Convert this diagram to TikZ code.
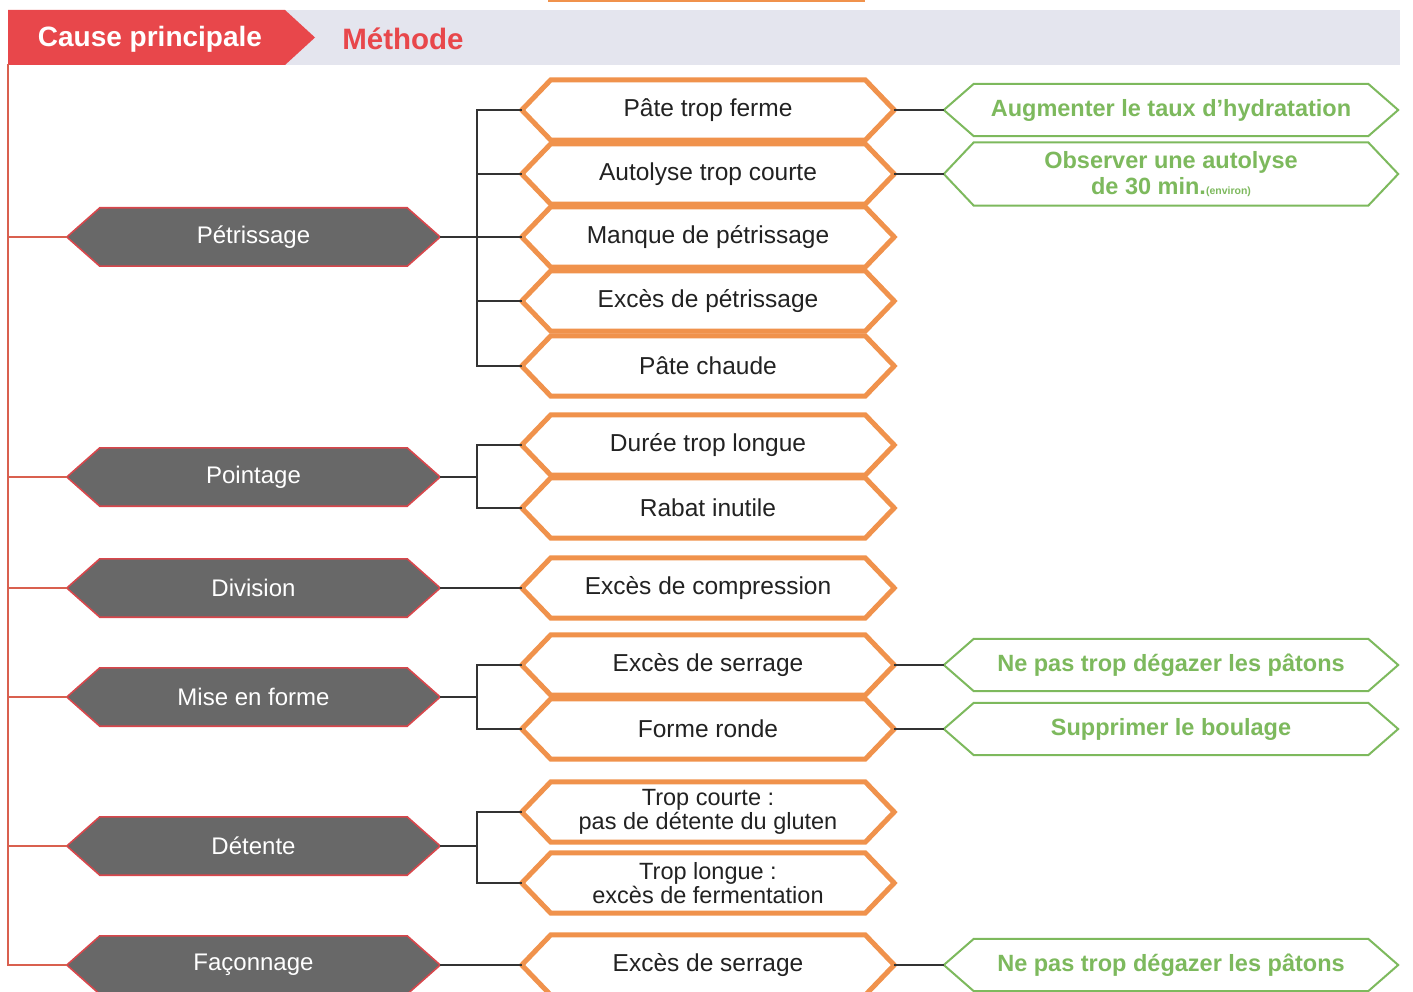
\documentclass[tikz,border=0pt]{standalone}
\usepackage{fontspec}
\setmainfont{Liberation Sans}
\usetikzlibrary{calc,backgrounds}
\definecolor{hdred}{HTML}{E8474B}
\definecolor{hdgrey}{HTML}{E4E5EE}
\definecolor{linered}{HTML}{D9604F}
\definecolor{causegrey}{HTML}{686868}
\definecolor{causeborder}{HTML}{D8474C}
\definecolor{orng}{HTML}{F0924C}
\definecolor{grn}{HTML}{7DB95D}
\definecolor{txtdark}{HTML}{222222}
\definecolor{conn}{HTML}{333333}
\begin{document}
\begin{tikzpicture}[x=1pt,y=-1pt,
  cause/.style={minimum width=373pt, minimum height=58pt, inner sep=0pt, text=white, font=\fontsize{24}{26}\selectfont},
  prob/.style={minimum width=372pt, minimum height=60pt, inner sep=0pt, text=txtdark, font=\fontsize{24.5}{24}\selectfont, align=center},
  prob2/.style={prob, font=\fontsize{23.5}{24}\selectfont},
  fix/.style={minimum width=454pt, minimum height=52pt, inner sep=0pt, text=grn, font=\bfseries\fontsize{23.5}{26}\selectfont, align=center},
  link/.style={draw=conn, line width=1.8pt},
  redlink/.style={draw=linered, line width=2pt},
  hdtext/.style={font=\bfseries\fontsize{28}{30}\selectfont, inner sep=0pt},
  ]
\useasboundingbox (0,0) rectangle (1413,992);
\clip (0,0) rectangle (1413,992);
% fragment of a shape above
\draw[orng, line width=3pt] (548,0.5) -- (865,0.5);
% header
\fill[hdgrey] (285,10) rectangle (1400,65);
\fill[hdred] (8,10) -- (285,10) -- (315,37.5) -- (285,65) -- (8,65) -- cycle;
\node[hdtext, text=white] (hcause) at (150,39) {Cause principale};
\node[hdtext, text=hdred, font=\bfseries\fontsize{29.5}{30}\selectfont] (hmeth) at (403,39) {Méthode};
% causes
\node[cause] (petr) at (253.5,237) {Pétrissage};
\node[cause] (poin) at (253.5,477) {Pointage};
\node[cause] (divi) at (253.5,588) {Division};
\node[cause] (mise) at (253.5,697) {Mise en forme};
\node[cause] (dete) at (253.5,846) {Détente};
\node[cause] (faco) at (253.5,965) {Façonnage};
% problems
\node[prob] (p1) at (708,110) {Pâte trop ferme};
\node[prob] (p2) at (708,174) {Autolyse trop courte};
\node[prob] (p3) at (708,237) {Manque de pétrissage};
\node[prob] (p4) at (708,301) {Excès de pétrissage};
\node[prob] (p5) at (708,366) {Pâte chaude};
\node[prob] (p6) at (708,445) {Durée trop longue};
\node[prob] (p7) at (708,508) {Rabat inutile};
\node[prob] (p8) at (708,588) {Excès de compression};
\node[prob] (p9) at (708,665) {Excès de serrage};
\node[prob] (p10) at (708,729) {Forme ronde};
\node[prob2] (p11) at (708,812) {Trop courte :\\pas de détente du gluten};
\node[prob2] (p12) at (708,883) {Trop longue :\\excès de fermentation};
\node[prob] (p13) at (708,965) {Excès de serrage};
% fixes
\node[fix] (f1) at (1171,110) {Augmenter le taux d'hydratation};
\node[fix, minimum height=63pt] (f2) at (1171,174) {Observer une autolyse\\de 30 min.{\fontsize{10.5}{12}\selectfont (environ)}};
\node[fix] (f3) at (1171,665) {Ne pas trop dégazer les pâtons};
\node[fix] (f4) at (1171,729) {Supprimer le boulage};
\node[fix] (f5) at (1171,965) {Ne pas trop dégazer les pâtons};
% hexagon outlines
\begin{scope}[on background layer]
\foreach \n in {petr,poin,divi,mise,dete,faco}
  \draw[fill=causegrey, draw=causeborder, line width=1.6pt, line join=miter]
    (\n.west) -- ($(\n.north west)+(33,0)$) -- ($(\n.north east)+(-33,0)$) -- (\n.east)
    -- ($(\n.south east)+(-33,0)$) -- ($(\n.south west)+(33,0)$) -- cycle;
\foreach \n in {p1,p2,p3,p4,p5,p6,p7,p8,p9,p10,p11,p12,p13}
  \draw[fill=white, draw=orng, line width=5pt, line join=miter]
    (\n.west) -- ($(\n.north west)+(29,0)$) -- ($(\n.north east)+(-29,0)$) -- (\n.east)
    -- ($(\n.south east)+(-29,0)$) -- ($(\n.south west)+(29,0)$) -- cycle;
\foreach \n in {f1,f2,f3,f4,f5}
  \draw[fill=white, draw=grn, line width=2pt, line join=miter]
    (\n.west) -- ($(\n.north west)+(30,0)$) -- ($(\n.north east)+(-30,0)$) -- (\n.east)
    -- ($(\n.south east)+(-30,0)$) -- ($(\n.south west)+(30,0)$) -- cycle;
\end{scope}
% red spine
\coordinate (spineTop) at (8,64);
\coordinate (spineBot) at (8,966);
\draw[redlink] (spineTop) -- (spineBot);
\foreach \n in {petr,poin,divi,mise,dete,faco}
  \draw[redlink] (spineTop |- \n.west) -- (\n.west);
% bracket connectors
\coordinate (bx) at (477,0);
\draw[link] (petr.east) -- (bx |- petr.east);
\draw[link] (p1.west) -- (bx |- p1.west) -- (bx |- p5.west) -- (p5.west);
\foreach \n in {p2,p3,p4} \draw[link] (bx |- \n.west) -- (\n.west);
\draw[link] (poin.east) -- (bx |- poin.east);
\draw[link] (p6.west) -- (bx |- p6.west) -- (bx |- p7.west) -- (p7.west);
\draw[link] (divi.east) -- (p8.west);
\draw[link] (mise.east) -- (bx |- mise.east);
\draw[link] (p9.west) -- (bx |- p9.west) -- (bx |- p10.west) -- (p10.west);
\draw[link] (dete.east) -- (bx |- dete.east);
\draw[link] (p11.west) -- (bx |- p11.west) -- (bx |- p12.west) -- (p12.west);
\draw[link] (faco.east) -- (p13.west);
% problem to fix
\draw[link] (p1.east) -- (f1.west);
\draw[link] (p2.east) -- (f2.west);
\draw[link] (p9.east) -- (f3.west);
\draw[link] (p10.east) -- (f4.west);
\draw[link] (p13.east) -- (f5.west);
\end{tikzpicture}
\end{document}
